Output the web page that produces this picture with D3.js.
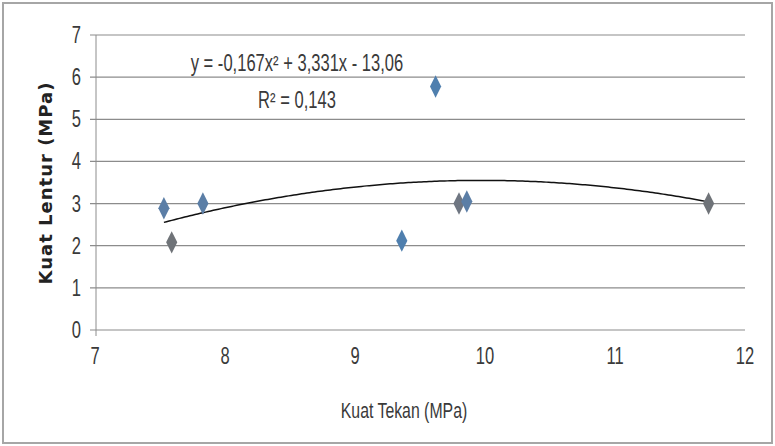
<!DOCTYPE html>
<html><head><meta charset="utf-8">
<script src="https://cdn.jsdelivr.net/npm/d3@7"></script>
<style>body{margin:0;background:#fff}svg{display:block}</style>
</head><body>
<svg id="c" width="775" height="446"></svg>
<script>
const kuatTekan  = [7.53, 7.59, 7.83, 9.36, 9.62, 9.80, 9.86, 11.72];
const kuatLentur = [2.89, 2.08, 3.00, 2.12, 5.78, 3.00, 3.05, 3.00];
const pointColors = ["#5b7ea6","#6f7378","#5b7ea6","#4f7fae","#4f7fae","#6f7682","#5b7ea6","#6f7378"];
const xTicks = [7, 8, 9, 10, 11, 12];
const yTicks = [0, 1, 2, 3, 4, 5, 6, 7];
const coef = {a: -0.167, b: 3.331, c: -13.06};
const eqText = "y = -0,167x² + 3,331x - 13,06";
const r2Text = "R² = 0,143";

const svg = d3.select("#c");
const font = "'Liberation Sans',Arial,sans-serif";
const sx = 0.72;
svg.append("rect").attr("x",3).attr("y",3).attr("width",769).attr("height",440)
  .attr("fill","#fff").attr("stroke","#a6a6a6").attr("stroke-width",2);

const x = d3.scaleLinear().domain([7,12]).range([95,745]);
const y = d3.scaleLinear().domain([0,7]).range([330,35]);

function narrow(sel, fx, fy, size){
  sel.attr("transform",(d,i)=>`translate(${fx(d,i)},${fy(d,i)}) scale(${sx},1)`)
     .attr("font-family",font).attr("font-size",size).attr("fill","#3a3a3a");
}

// gridlines
svg.append("g").selectAll("line").data(yTicks).join("line")
  .attr("x1",90).attr("x2",745).attr("y1",d=>y(d)).attr("y2",d=>y(d))
  .attr("stroke","#8c8c8c").attr("stroke-width",1.2);
// y axis line
svg.append("line").attr("x1",x(7)+1).attr("x2",x(7)+1).attr("y1",y(7)).attr("y2",y(0)+6)
  .attr("stroke","#8c8c8c").attr("stroke-width",1);

// tick labels
svg.append("g").selectAll("text").data(yTicks).join("text")
  .attr("text-anchor","end").text(d=>d)
  .call(narrow, ()=>81, d=>y(d)+8, 23);
svg.append("g").selectAll("text").data(xTicks).join("text")
  .attr("text-anchor","middle").text(d=>d)
  .call(narrow, d=>x(d), ()=>364, 23);

// axis titles
svg.append("text").attr("transform","translate(52,183) rotate(-90)").attr("text-anchor","middle")
  .attr("font-family","'DejaVu Sans',sans-serif").attr("font-weight","bold").attr("font-size",18)
  .attr("letter-spacing",1).attr("fill","#222").text("Kuat Lentur (MPa)");
svg.append("text").attr("text-anchor","middle").text("Kuat Tekan (MPa)")
  .call(narrow, ()=>404, ()=>418, 22);

// trendline
const xs = d3.range(d3.min(kuatTekan), d3.max(kuatTekan)+0.001, 0.02);
const line = d3.line().x(d=>x(d)).y(d=>y(coef.a*d*d+coef.b*d+coef.c));
svg.append("path").datum(xs).attr("d",line).attr("fill","none").attr("stroke","#111").attr("stroke-width",1.5);

// points
const diamond = d3.symbol().type(d3.symbolDiamond).size(120);
svg.append("g").selectAll("path").data(kuatTekan).join("path")
  .attr("transform",(d,i)=>`translate(${x(d)},${y(kuatLentur[i])}) scale(0.95,1.1)`)
  .attr("d",diamond).attr("fill",(d,i)=>pointColors[i]);

// equation
svg.append("text").attr("text-anchor","middle").text(eqText)
  .call(narrow, ()=>297, ()=>71, 23);
svg.append("text").attr("text-anchor","middle").text(r2Text)
  .call(narrow, ()=>297, ()=>108, 23);
</script>
</body></html>
